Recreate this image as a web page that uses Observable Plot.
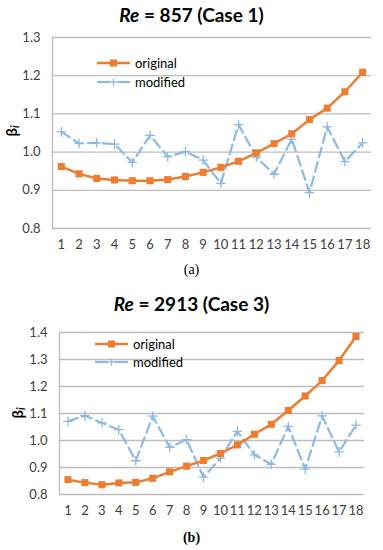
<!DOCTYPE html>
<html>
<head>
<meta charset="utf-8">
<script src="https://cdn.jsdelivr.net/npm/d3@7"></script>
<script src="https://cdn.jsdelivr.net/npm/@observablehq/plot@0.6"></script>
<style>
  html, body { margin: 0; padding: 0; background: #fff; }
  #page { position: relative; width: 383px; height: 550px; overflow: hidden; font-family: Lato, "Open Sans", sans-serif; }
  .title { position: absolute; left: 0; width: 383px; text-align: center; font-weight: bold; font-size: 19px; color: #000; line-height: 20px; }
  .cap { position: absolute; left: 0; width: 383px; text-align: center; font-family: "Liberation Serif", serif; font-size: 14px; color: #000; line-height: 14px; }
  .panel { position: absolute; left: 0; }
  #overlay { position: absolute; left: 0; top: 0; pointer-events: none; }
</style>
</head>
<body>
<div id="page">
  <div class="title" style="top:5px"><i>Re</i> = 857 (Case 1)</div>
  <div class="panel" id="pa" style="top:28px"></div>
  <div class="cap" style="top:263px">(a)</div>
  <div class="title" style="top:294px"><i>Re</i> = 2913 (Case 3)</div>
  <div class="panel" id="pb" style="top:323px"></div>
  <div class="cap" style="top:531px"><b>(b)</b></div>
</div>
<script>
// ---- data ----
const cases = [1,2,3,4,5,6,7,8,9,10,11,12,13,14,15,16,17,18];
const origA = [0.962,0.943,0.931,0.927,0.925,0.925,0.928,0.936,0.947,0.960,0.976,0.998,1.022,1.048,1.085,1.115,1.158,1.209];
const modA  = [1.053,1.023,1.024,1.021,0.973,1.044,0.988,1.001,0.979,0.918,1.072,0.987,0.942,1.034,0.894,1.066,0.975,1.024];
const origB = [0.855,0.844,0.836,0.843,0.845,0.860,0.884,0.905,0.926,0.952,0.984,1.023,1.060,1.111,1.165,1.222,1.296,1.385];
const modB  = [1.071,1.092,1.065,1.040,0.925,1.090,0.975,1.003,0.864,0.935,1.034,0.947,0.912,1.052,0.894,1.091,0.958,1.057];
const yTicksA = [0.8,0.9,1.0,1.1,1.2,1.3];
const yTicksB = [0.8,0.9,1.0,1.1,1.2,1.3,1.4];
const seriesNames = ["original","modified"];

const ORANGE = "#ED7D31";
const BLUE = "#8FB9E0";
const GRID = "#BDBDBD";

function panel(orig, mod, yTicks, opts) {
  const rows = cases.map((c, i) => ({c, orig: orig[i], mod: mod[i]}));
  return Plot.plot({
    width: 383,
    height: opts.height,
    marginLeft: opts.ml,
    marginRight: opts.mr,
    marginTop: 9,
    marginBottom: opts.height - 9 - opts.inner,
    x: {domain: [0.5, 18.5], label: null},
    y: {domain: [yTicks[0], yTicks[yTicks.length - 1]], label: null},
    style: {fontFamily: "Lato, 'Open Sans', sans-serif", fontSize: "13px", color: "#404040", background: "transparent", overflow: "visible"},
    marks: [
      Plot.ruleY(yTicks, {stroke: GRID, strokeWidth: 1.3}),
      Plot.ruleX([0.5], {stroke: GRID, strokeWidth: 1.3}),
      Plot.axisX({ticks: cases, tickSize: 0, tickPadding: 11, tickFormat: d => String(d), fill: "#404040", label: null}),
      Plot.axisY({ticks: yTicks, tickSize: 0, tickPadding: 12, tickFormat: d3.format(".1f"), fill: "#404040", label: null}),
      Plot.lineY(rows, {x: "c", y: "mod", stroke: BLUE, strokeWidth: 2.2, strokeDasharray: "10,5"}),
      Plot.dot(rows, {x: "c", y: "mod", symbol: "plus", stroke: BLUE, strokeWidth: 1.3, r: 3.2}),
      Plot.lineY(rows, {x: "c", y: "orig", stroke: ORANGE, strokeWidth: 2.5}),
      Plot.dot(rows, {x: "c", y: "orig", symbol: "square", fill: ORANGE, r: 4})
    ]
  });
}

document.getElementById("pa").appendChild(panel(origA, modA, yTicksA, {height: 228, inner: 191, ml: 52, mr: 12}));
document.getElementById("pb").appendChild(panel(origB, modB, yTicksB, {height: 199, inner: 162, ml: 59, mr: 19}));

// ---- legends and y-axis titles (decoration) ----
const ns = "http://www.w3.org/2000/svg";
const ov = document.createElementNS(ns, "svg");
ov.setAttribute("id", "overlay");
ov.setAttribute("width", 383);
ov.setAttribute("height", 550);
function el(tag, attrs, parent) {
  const e = document.createElementNS(ns, tag);
  for (const k in attrs) e.setAttribute(k, attrs[k]);
  (parent || ov).appendChild(e);
  return e;
}
function legend(x0, y0, y1) {
  el("line", {x1: x0, x2: x0 + 33, y1: y0, y2: y0, stroke: ORANGE, "stroke-width": 2.5});
  el("rect", {x: x0 + 16.5 - 3.5, y: y0 - 3.5, width: 7, height: 7, fill: ORANGE});
  const t1 = el("text", {x: x0 + 38, y: y0, "dominant-baseline": "central", "font-size": 13, fill: "#000", "font-family": "Lato, sans-serif"});
  t1.textContent = seriesNames[0];
  el("line", {x1: x0, x2: x0 + 13, y1: y1, y2: y1, stroke: BLUE, "stroke-width": 2.2});
  el("line", {x1: x0 + 20, x2: x0 + 33, y1: y1, y2: y1, stroke: BLUE, "stroke-width": 2.2});
  el("line", {x1: x0 + 16.5, x2: x0 + 16.5, y1: y1 - 3.5, y2: y1 + 3.5, stroke: BLUE, "stroke-width": 1.3});
  el("line", {x1: x0 + 13, x2: x0 + 20, y1: y1, y2: y1, stroke: BLUE, "stroke-width": 1.3});
  const t2 = el("text", {x: x0 + 38, y: y1, "dominant-baseline": "central", "font-size": 13, fill: "#000", "font-family": "Lato, sans-serif"});
  t2.textContent = seriesNames[1];
}
legend(97, 63, 82);
legend(95, 344, 362);
function ylab(x, y) {
  const t = el("text", {transform: `translate(${x},${y}) rotate(-90)`, "text-anchor": "middle", "dominant-baseline": "central", "font-size": 15, "font-weight": "bold", fill: "#000", "font-family": "Lato, sans-serif"});
  const a = el("tspan", {}, t); a.textContent = "β";
  const b = el("tspan", {"font-style": "italic", "font-size": 11, dy: 3}, t); b.textContent = "i";
}
ylab(11, 131);
ylab(17, 413);
document.getElementById("page").appendChild(ov);
</script>
</body>
</html>
